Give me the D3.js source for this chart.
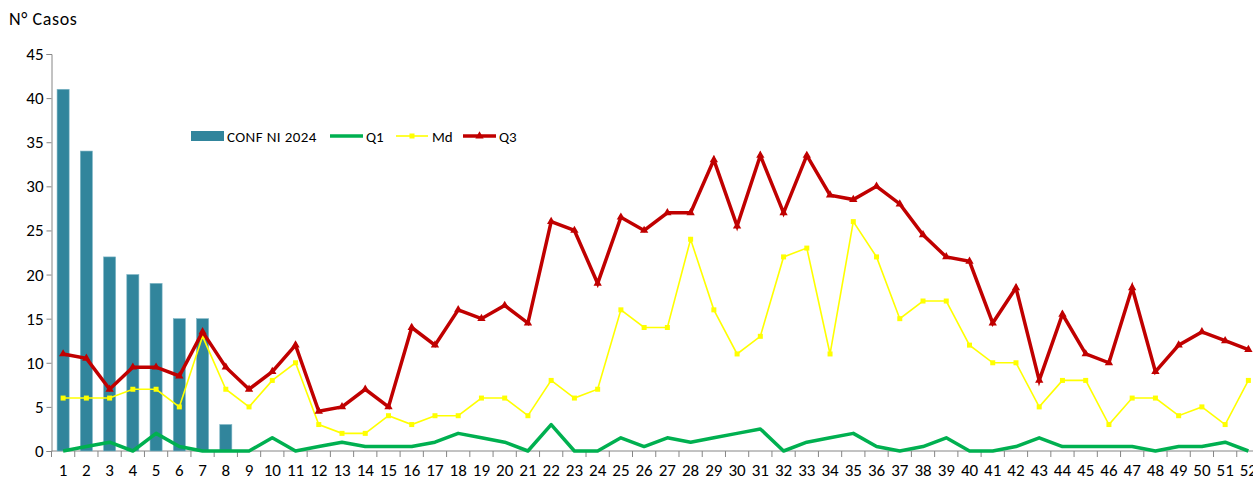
<!DOCTYPE html>
<html>
<head>
<meta charset="utf-8">
<script src="https://cdn.jsdelivr.net/npm/d3@7"></script>
<style>
  body { margin: 0; background: #fff; overflow: hidden; }
  text { font-family: Calibri, Carlito, Lato, "Noto Sans", sans-serif; fill: #000; }
</style>
</head>
<body>
<svg id="chart" width="1253" height="484"></svg>
<script>
// weeks 1..52
const weeks = d3.range(1, 53);
const conf2024 = [41, 34, 22, 20, 19, 15, 15, 3];
const q1 = [0, 0.5, 1, 0, 2, 0.5, 0, 0, 0, 1.5, 0, 0.5, 1, 0.5, 0.5, 0.5, 1, 2, 1.5, 1,
  0, 3, 0, 0, 1.5, 0.5, 1.5, 1, 1.5, 2, 2.5, 0, 1, 1.5, 2, 0.5, 0, 0.5, 1.5, 0,
  0, 0.5, 1.5, 0.5, 0.5, 0.5, 0.5, 0, 0.5, 0.5, 1, 0];
const md = [6, 6, 6, 7, 7, 5, 13, 7, 5, 8, 10, 3, 2, 2, 4, 3, 4, 4, 6, 6,
  4, 8, 6, 7, 16, 14, 14, 24, 16, 11, 13, 22, 23, 11, 26, 22, 15, 17, 17, 12,
  10, 10, 5, 8, 8, 3, 6, 6, 4, 5, 3, 8];
const q3 = [11, 10.5, 7, 9.5, 9.5, 8.5, 13.5, 9.5, 7, 9, 12, 4.5, 5, 7, 5, 14, 12, 16, 15, 16.5,
  14.5, 26, 25, 19, 26.5, 25, 27, 27, 33, 25.5, 33.5, 27, 33.5, 29, 28.5, 30, 28, 24.5, 22, 21.5,
  14.5, 18.5, 8, 15.5, 11, 10, 18.5, 9, 12, 13.5, 12.5, 11.5];
const yTicks = [0, 5, 10, 15, 20, 25, 30, 35, 40, 45];

const svg = d3.select('#chart');
const plotLeft = 51.5, plotRight = 1260, plotTop = 54, plotBottom = 451;

const x = d3.scaleBand().domain(weeks).range([plotLeft, plotRight]).padding(0);
const y = d3.scaleLinear().domain([0, 45]).range([plotBottom, plotTop]);
const cx = d => x(d) + x.bandwidth() / 2;

// y axis
const yAxis = svg.append('g')
    .attr('transform', 'translate(' + plotLeft + ',0)')
    .call(d3.axisLeft(y).tickValues(yTicks).tickSize(5).tickPadding(3));
yAxis.select('.domain').attr('stroke', '#868686');
yAxis.selectAll('.tick line').attr('stroke', '#868686');
yAxis.selectAll('.tick text').attr('font-size', '17px');

// x axis with ticks between categories
const xAxisG = svg.append('g').attr('transform', 'translate(0,' + plotBottom + ')');
xAxisG.append('line')
    .attr('x1', plotLeft).attr('x2', plotRight)
    .attr('stroke', '#868686');
xAxisG.selectAll('line.tk')
    .data(weeks.concat([53]))
    .enter().append('line')
    .attr('class', 'tk')
    .attr('x1', d => d <= 52 ? x(d) : plotRight)
    .attr('x2', d => d <= 52 ? x(d) : plotRight)
    .attr('y1', 0).attr('y2', 6)
    .attr('stroke', '#868686');
xAxisG.selectAll('text')
    .data(weeks)
    .enter().append('text')
    .attr('x', d => cx(d))
    .attr('y', 25)
    .attr('text-anchor', 'middle')
    .attr('font-size', '17px')
    .text(d => d);

// bars
const barW = x.bandwidth() * 0.52;
svg.append('g').selectAll('rect')
    .data(conf2024)
    .enter().append('rect')
    .attr('x', (d, i) => cx(weeks[i]) - barW / 2)
    .attr('y', d => y(d))
    .attr('width', barW)
    .attr('height', d => plotBottom - y(d))
    .attr('fill', '#31859C')
    .attr('stroke', '#7fb6c6')
    .attr('stroke-width', 0.6);

const line = d3.line().x((d, i) => cx(weeks[i])).y(d => y(d));

// Q1
svg.append('path').datum(q1)
    .attr('d', line).attr('fill', 'none')
    .attr('stroke', '#00B050').attr('stroke-width', 3.5)
    .attr('stroke-linejoin', 'round');

// Md
svg.append('path').datum(md)
    .attr('d', line).attr('fill', 'none')
    .attr('stroke', '#FFFF00').attr('stroke-width', 1.6);
svg.append('g').selectAll('rect')
    .data(md)
    .enter().append('rect')
    .attr('x', (d, i) => cx(weeks[i]) - 2.5)
    .attr('y', d => y(d) - 2.5)
    .attr('width', 5).attr('height', 5)
    .attr('fill', '#FFFF00');

// Q3
svg.append('path').datum(q3)
    .attr('d', line).attr('fill', 'none')
    .attr('stroke', '#C00000').attr('stroke-width', 3.5)
    .attr('stroke-linejoin', 'miter');
const tri = d3.symbol().type(d3.symbolTriangle).size(30);
svg.append('g').selectAll('path')
    .data(q3)
    .enter().append('path')
    .attr('d', tri)
    .attr('transform', (d, i) => 'translate(' + cx(weeks[i]) + ',' + y(d) + ')')
    .attr('fill', '#C00000');

// title
svg.append('text')
    .attr('x', 9).attr('y', 25)
    .attr('font-size', '18px')
    .attr('letter-spacing', '0.6px')
    .text('N° Casos');

// legend
const lg = svg.append('g').attr('transform', 'translate(0,136)');
lg.append('rect').attr('x', 191).attr('y', -5).attr('width', 33).attr('height', 10)
    .attr('fill', '#31859C');
lg.append('text').attr('x', 227).attr('y', 5.5).attr('font-size', '15px')
    .attr('letter-spacing', '0.4px').text('CONF NI 2024');

lg.append('line').attr('x1', 330).attr('x2', 363).attr('stroke', '#00B050').attr('stroke-width', 3.5);
lg.append('text').attr('x', 366).attr('y', 5.5).attr('font-size', '15px').text('Q1');

lg.append('line').attr('x1', 396).attr('x2', 428).attr('stroke', '#FFFF00').attr('stroke-width', 1.6);
lg.append('rect').attr('x', 409.5).attr('y', -2.5).attr('width', 5).attr('height', 5).attr('fill', '#FFFF00');
lg.append('text').attr('x', 432).attr('y', 5.5).attr('font-size', '15px').text('Md');

lg.append('line').attr('x1', 463).attr('x2', 496).attr('stroke', '#C00000').attr('stroke-width', 3.5);
lg.append('path').attr('d', tri).attr('transform', 'translate(479.5,0)').attr('fill', '#C00000');
lg.append('text').attr('x', 499).attr('y', 5.5).attr('font-size', '15px').text('Q3');
</script>
</body>
</html>
